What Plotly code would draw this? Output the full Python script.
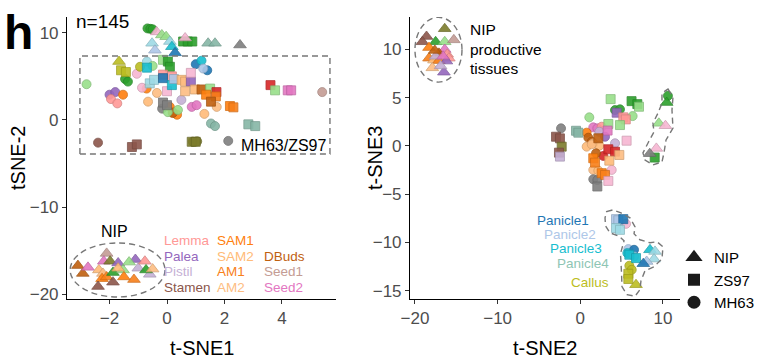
import plotly.graph_objects as go

# ---------------- data ----------------
tissue_names = ["Lemma", "Palea", "Pistil", "Stamen", "SAM1", "SAM2", "AM1", "AM2",
                "DBuds", "Seed1", "Seed2", "Panicle1", "Panicle2", "Panicle3", "Panicle4",
                "Callus", "Leaf", "Sheath", "Root", "Stem", "Shoot", "Node", "Internode"]
tissue_colors = ["#ff9896", "#9467bd", "#c5b0d5", "#8c564b", "#ff7f0e", "#ffbb78", "#f8801a", "#fdbd82",
                 "#c0600f", "#c49c94", "#e377c2", "#1f77b4", "#aec7e8", "#17becf", "#9edae5",
                 "#bcbd22", "#2ca02c", "#98df8a", "#d62728", "#f7b6d2", "#7f7f7f", "#7c7c2c", "#86b6a6"]

# Left panel: t-SNE1 vs tSNE-2
nip1_x = [-0.36, -0.18, -0.03, -0.52, 0.10, -0.42, 0.17, 0.28, 0.63, 1.43, 1.67, 2.54, -1.67,
          -3.10, -2.93, -2.75, -2.37, -2.23, -2.26, -2.10, -2.40, -1.88, -2.10, -2.20, -1.98, -1.88,
          -1.70, -1.10, -1.53, -1.32, -1.70, -1.50, -1.15, -1.00, -0.60, -0.77, -0.73, -0.50]
nip1_y = [10.1, 9.75, 9.55, 8.8, 9.0, 8.0, 8.4, 7.7, 9.4, 8.8, 8.8, 8.6, 6.7,
          -16.7, -17.6, -16.9, -17.2, -17.6, -18.2, -18.0, -19.1, -18.6, -15.3, -16.2, -16.2, -17.5,
          -16.4, -16.0, -17.2, -16.3, -17.0, -18.0, -18.3, -17.0, -17.7, -16.2, -17.2, -17.1]
nip1_t = ["Stem", "Sheath", "Sheath", "Panicle4", "Panicle4", "Panicle2", "Panicle3", "Panicle1", "Stem",
          "Internode", "Internode", "Shoot", "Callus",
          "DBuds", "DBuds", "Seed2", "SAM2", "AM2", "SAM1", "AM1", "Stamen", "Stamen", "Seed1", "Seed2",
          "Node", "Leaf", "Palea", "Palea", "Sheath", "Sheath", "SAM2", "SAM1", "AM1", "Pistil", "Pistil",
          "Lemma", "Leaf", "AM2"]

zs1_x = [0.56, 0.72, 0.88, -1.60, -1.43, -0.70, -0.14, 0.03, 0.10, -0.60, -0.45,
         0.00, -0.14, 0.17, -0.14, 0.17, 0.24, 0.51, 0.63, 0.83, 0.83,
         0.63, 0.97, 1.20, 1.50, 1.72, 1.36, 1.70, 1.53, 2.19, 2.31,
         3.60, 3.76, 4.20, 4.32, -0.14, 0.00, 2.83, 3.07, -1.22, -1.05, 0.86, 1.00]
zs1_y = [9.0, 9.0, 9.0, 5.7, 5.5, 6.0, 6.9, 6.7, 6.1, 4.2, 4.6,
         3.3, 5.2, 5.0, 4.8, 4.0, 4.7, 4.6, 4.4, 4.4, 5.4,
         3.3, 3.5, 3.5, 3.6, 3.2, 2.9, 2.7, 2.1, 1.6, 1.45,
         4.0, 3.4, 3.4, 3.4, 2.0, 1.7, -0.5, -0.7, -3.1, -2.8, -2.5, -2.5]
zs1_t = ["Leaf", "Leaf", "Leaf", "Callus", "Callus", "Panicle3", "Sheath", "Leaf", "Leaf", "Panicle4", "Panicle4",
         "Stem", "Lemma", "Lemma", "Panicle1", "Panicle3", "Panicle2", "SAM2", "AM2", "Palea", "Stem",
         "AM2", "SAM2", "DBuds", "Sheath", "Root", "SAM1", "AM1", "DBuds", "SAM1", "AM1",
         "Root", "Sheath", "Seed2", "Seed2", "Shoot", "Shoot", "Internode", "Internode", "Stamen", "Stamen",
         "Node", "Node"]

mh1_x = [-0.68, -0.58, -0.50, -1.46, -1.36, -2.80, -2.00, -1.80, -1.95, -1.73,
         -1.53, -0.71, -1.05, -0.87, -0.94, -0.70, -0.50, -0.66, -0.35,
         1.00, 1.40, 1.20, 1.26, 1.73, 1.30, 5.40, 0.50, 0.86, 1.03, -0.17,
         0.10, 0.20, 0.35, 0.20, 0.03, 0.38, 1.53, 1.67, -2.40, 0.90, 1.05, 2.13]
mh1_y = [10.5, 10.45, 10.4, 4.7, 4.4, 4.1, 2.9, 3.2, 2.4, 1.9,
         2.9, 3.6, 5.3, 3.7, 6.1, 6.7, 6.2, 2.1, 3.1,
         6.4, 5.7, 6.8, 5.9, 1.5, 0.7, 3.2, 2.3, 1.5, 1.7, 1.3,
         1.5, 0.9, 0.6, 0.8, 0.9, 1.15, -0.4, -0.7, -2.6, -2.5, -2.45, -2.4]
mh1_t = ["Leaf", "Leaf", "Leaf", "Leaf", "Leaf", "Sheath", "Palea", "Palea", "Lemma", "Lemma",
         "SAM1", "SAM1", "Stem", "Stem", "Callus", "Panicle4", "Sheath", "SAM2", "AM2",
         "Panicle1", "Panicle1", "Panicle3", "Panicle2", "AM2", "SAM2", "Seed1", "Pistil", "Seed2", "Seed2", "Shoot",
         "SAM1", "AM1", "SAM1", "DBuds", "Sheath", "Sheath", "Internode", "Internode", "Stamen", "Node", "Node", "Shoot"]

# Right panel: t-SNE2 vs t-SNE3
nip2_x = [-16.4, -18.6, -19.1, -17.5, -16.4, -15.3, -18.3, -16.4, -17.1, -16.1, -15.9, -18.3, -17.7,
          -17.1, -16.2, -17.9, -16.5, -17.5, -16.6, -17.6, -16.9,
          10.45, 9.5, 10.3, 9.2, 8.4,
          8.43, 9.04, 8.92, 8.03, 7.62, 6.74]
nip2_y = [12.15, 11.35, 10.8, 10.8, 10.8, 11.0, 10.2, 10.0, 9.6, 9.5, 9.1, 9.1, 8.9,
          8.85, 8.8, 8.1, 7.65, 9.3, 9.3, 9.9, 8.3,
          4.5, 2.35, 2.1, -0.25, -0.8,
          -10.76, -10.93, -11.72, -11.97, -12.2, -14.38]
nip2_t = ["Node", "Stamen", "Stamen", "Leaf", "Sheath", "Seed1", "SAM1", "Seed2", "DBuds", "Lemma", "Lemma",
          "AM1", "SAM2", "AM1", "Palea", "AM2", "Palea", "Pistil", "Seed2", "DBuds", "Pistil",
          "Leaf", "Sheath", "Stem", "Stem", "Shoot",
          "Panicle3", "Panicle4", "Panicle4", "Panicle2", "Panicle1", "Callus"]

zs2_x = [3.67, 6.20, 6.90, 7.10, 4.40, 5.20, 5.50, 3.39, 4.80, -0.52, -0.24,
         -2.94, -2.46, -2.25, -2.58, -2.46, 3.30, 5.60, 2.18,
         3.39, 4.20, 3.51, 4.72, 1.57, 1.78, 2.59, 2.99, 2.06, 3.39, 9.00,
         4.32, 4.60, 5.20, 4.32, 4.80, 5.93, 6.74, 5.81, 5.81]
zs2_y = [4.86, 4.65, 4.34, 4.07, 3.45, 2.97, 2.76, 2.28, 2.17, 1.58, 1.38,
         0.96, 0.79, -0.07, -0.69, -1.10, 1.60, 0.55, 0.80,
         -0.34, -0.59, -1.52, -0.93, -1.27, -1.72, -2.82, -3.00, -4.20, -3.62, -1.20,
         -7.58, -7.70, -7.58, -8.51, -8.69, -11.27, -11.62, -13.24, -13.79]
zs2_t = ["Sheath", "Leaf", "Leaf", "Sheath", "Palea", "Lemma", "Lemma", "Sheath", "Sheath", "Internode", "Internode",
         "Stamen", "Stamen", "Node", "Stamen", "Pistil", "Seed2", "Stem", "DBuds",
         "Root", "Root", "SAM2", "AM2", "SAM1", "AM1", "SAM1", "AM1", "Shoot", "Stem", "Leaf",
         "Panicle2", "Panicle2", "Panicle1", "Panicle4", "Panicle4", "Panicle3", "Panicle3", "Callus", "Callus"]

mh2_x = [10.60, 4.20, 4.80, 6.33, 1.09, -2.33, 1.57, 2.06, 2.59, 2.30, 0.77, 0.97, 1.38, 2.99,
         4.20, 0.77, 1.57, 2.30, 1.38, 2.78, 1.90, 1.57, 2.18, 3.80, 1.57, 2.06,
         5.53, 5.81, 6.50, 5.69, 6.50, 5.93, 6.22]
mh2_y = [5.20, 3.72, 3.80, 3.10, 2.97, 1.83, 1.93, 1.83, 2.00, 1.48, 1.38, 0.86, 0.44, 0.96,
         0.28, -0.07, 0.28, 0.03, 0.17, -1.03, -0.76, -2.48, -2.55, -2.48, -3.45, -3.52,
         -8.07, -10.69, -10.76, -11.10, -11.45, -12.41, -12.83]
mh2_t = ["Leaf", "Leaf", "Leaf", "Sheath", "Sheath", "Shoot", "Seed2", "Seed2", "Lemma", "Pistil", "SAM1",
         "DBuds", "DBuds", "Palea", "Pistil", "SAM2", "AM2", "SAM2", "AM2", "Root", "DBuds", "AM2", "SAM2",
         "Stem", "Shoot", "Shoot", "Stem", "Panicle2", "Panicle1", "Panicle3", "Panicle4", "Callus", "Callus"]

genotypes = ["NIP", "ZS97", "MH63"]
legend_cols = [["Lemma", "Palea", "Pistil", "Stamen"], ["SAM1", "SAM2", "AM1", "AM2"], ["DBuds", "Seed1", "Seed2"]]
panicle_labels = ["Panicle1", "Panicle2", "Panicle3", "Panicle4", "Callus"]

# ---------------- styling ----------------
FONT = "Liberation Sans, Arial, sans-serif"
color_of = dict(zip(tissue_names, tissue_colors))
label_color = dict(color_of)
label_color["Panicle4"] = "#8ec5b4"


def darker(h, f=0.82):
    h = h.lstrip("#")
    r, g, b = (int(h[i:i + 2], 16) for i in (0, 2, 4))
    return "rgb(%d,%d,%d)" % (r * f, g * f, b * f)


symbols = {"NIP": ("triangle-up", 11), "ZS97": ("square", 9), "MH63": ("circle", 9)}
legend_sizes = {"NIP": 15, "ZS97": 12, "MH63": 13}

fig = go.Figure()


def add(x, y, t, geno, xa, ya):
    sym, size = symbols[geno]
    fig.add_trace(go.Scatter(
        x=x, y=y, mode="markers", xaxis=xa, yaxis=ya, showlegend=False, cliponaxis=False,
        marker=dict(symbol=sym, size=size, color=[color_of[k] for k in t], opacity=0.9,
                    line=dict(width=0.8, color=[darker(color_of[k]) for k in t]))))


add(mh1_x, mh1_y, mh1_t, "MH63", "x", "y")
add(zs1_x, zs1_y, zs1_t, "ZS97", "x", "y")
add(nip1_x, nip1_y, nip1_t, "NIP", "x", "y")
add(mh2_x, mh2_y, mh2_t, "MH63", "x2", "y2")
add(zs2_x, zs2_y, zs2_t, "ZS97", "x2", "y2")
add(nip2_x, nip2_y, nip2_t, "NIP", "x2", "y2")

for g in genotypes:
    sym, size = symbols[g]
    fig.add_trace(go.Scatter(x=[None], y=[None], mode="markers", name=g,
                             marker=dict(symbol=sym, size=legend_sizes[g], color="#1a1a1a"),
                             xaxis="x2", yaxis="y2"))

dash = dict(color="#777777", width=1.4, dash="6px,4px")
shapes = [
    dict(type="rect", xref="x", yref="y", x0=-3.03, x1=5.67, y0=-3.9, y1=7.34, line=dash),
    dict(type="circle", xref="x", yref="y", x0=-3.37, x1=-0.07, y0=-20.3, y1=-14.1, line=dash),
    dict(type="circle", xref="x2", yref="y2", x0=-20.0, x1=-14.31, y0=6.62, y1=13.34, line=dash),
]
veg_path = [(10.61, 5.90), (11.21, 5.07), (11.09, 3.72), (11.21, 1.86), (10.37, 0.62), (10.12, -0.72),
            (9.88, -1.65), (8.79, -1.97), (7.83, -1.45), (7.58, -0.72), (8.19, 0.31), (8.91, 1.45),
            (8.79, 2.38), (9.40, 3.41), (9.88, 4.45), (9.88, 5.48)]
pan_path = [(3.19, -6.80), (3.96, -6.62), (4.92, -6.93), (6.01, -7.45), (6.62, -8.38), (6.50, -9.10),
            (7.22, -9.72), (8.43, -10.03), (9.28, -9.93), (10.0, -10.45), (9.88, -11.69), (8.92, -12.52),
            (7.83, -12.93), (7.34, -13.96), (7.22, -14.89), (6.62, -15.57), (5.65, -15.41), (5.04, -14.58),
            (4.98, -13.03), (4.86, -11.17), (5.29, -9.83), (4.68, -9.36), (3.59, -9.0), (3.05, -8.27),
            (2.99, -7.45)]
for pts in (veg_path, pan_path):
    p = "M " + " L ".join("%g,%g" % q for q in pts) + " Z"
    shapes.append(dict(type="path", xref="x2", yref="y2", path=p, line=dash))

ann = []


def txt(text, x, y, xref, yref, size, color="#000000", xanchor="center", yanchor="middle", angle=0, bold=False):
    ann.append(dict(text=("<b>%s</b>" % text) if bold else text, x=x, y=y, xref=xref, yref=yref,
                    showarrow=False, xanchor=xanchor, yanchor=yanchor, textangle=angle, borderpad=0,
                    font=dict(family=FONT, size=size, color=color)))


# panel letter & axis titles
txt("h", 3 / 760, 1 - 32 / 363, "paper", "paper", 48, xanchor="left", bold=True)
txt("t-SNE1", 201.5 / 760, 1 - 348 / 363, "paper", "paper", 20)
txt("t-SNE2", 545 / 760, 1 - 348 / 363, "paper", "paper", 20)
txt("tSNE-2", 18 / 760, 1 - 158 / 363, "paper", "paper", 20, angle=-90)
txt("t-SNE3", 375 / 760, 1 - 158 / 363, "paper", "paper", 20, angle=-90)

# left panel annotations
txt("n=145", -3.2, 11.24, "x", "y", 19, xanchor="left")
txt("MH63/ZS97", 5.56, -2.87, "x", "y", 16, xanchor="right")
txt("NIP", -1.81, -12.84, "x", "y", 16)
col_x = [-0.13, 1.70, 3.33]
row_y = [-13.84, -15.6, -17.32, -19.19]
for ci, col in enumerate(legend_cols):
    off = 4 - len(col)
    for ri, name in enumerate(col):
        txt(name, col_x[ci], row_y[ri + off], "x", "y", 13.5, color=label_color[name], xanchor="left")

# right panel annotations
for s, yy in zip(["NIP", "productive", "tissues"], [12.1, 10.03, 8.07]):
    txt(s, -13.46, yy, "x2", "y2", 15.5, xanchor="left")
for s, yy in zip(["NIP", "vegetative", "tissues"], [6.52, 4.34, 2.38]):
    txt(s, 12.18, yy, "x2", "y2", 15.5, xanchor="left")
pan_x = [1.17, 2.02, 2.75, 3.59, 3.59]
pan_y = [-7.73, -9.21, -10.65, -12.2, -14.17]
for name, xx, yy in zip(panicle_labels, pan_x, pan_y):
    txt(name, xx, yy, "x2", "y2", 13.5, color=label_color[name], xanchor="right")

axis_common = dict(showline=True, linecolor="#000000", linewidth=1.1, ticks="outside", ticklen=4,
                   tickcolor="#333333", tickwidth=1.1, showgrid=False, zeroline=False, automargin=False,
                   tickfont=dict(family=FONT, size=17, color="#4d4d4d"))
ydom = [(363 - 299) / 363, (363 - 17) / 363]
fig.update_layout(
    width=760, height=363, margin=dict(l=0, r=0, t=0, b=0, autoexpand=False),
    paper_bgcolor="white", plot_bgcolor="white",
    font=dict(family=FONT),
    xaxis=dict(domain=[67 / 760, 336 / 760], range=[-3.48, 5.88], tickvals=[-2, 0, 2, 4], anchor="y", **axis_common),
    yaxis=dict(domain=ydom, range=[-20.53, 11.81], tickvals=[-20, -10, 0, 10], anchor="x", **axis_common),
    xaxis2=dict(domain=[410 / 760, 680 / 760], range=[-20.6, 12.06], tickvals=[-20, -10, 0, 10], anchor="y2", **axis_common),
    yaxis2=dict(domain=ydom, range=[-15.86, 13.37], tickvals=[-15, -10, -5, 0, 5, 10], anchor="x2", **axis_common),
    shapes=shapes, annotations=ann,
    legend=dict(x=674 / 760, y=1 - 241 / 363, xanchor="left", yanchor="top", bgcolor="rgba(0,0,0,0)",
                font=dict(family=FONT, size=15, color="#000000"), itemwidth=30, tracegroupgap=0),
)
fig.write_html("out.html", config={"displayModeBar": False},
               post_script="document.body.style.margin='0';document.body.style.overflow='hidden';")
